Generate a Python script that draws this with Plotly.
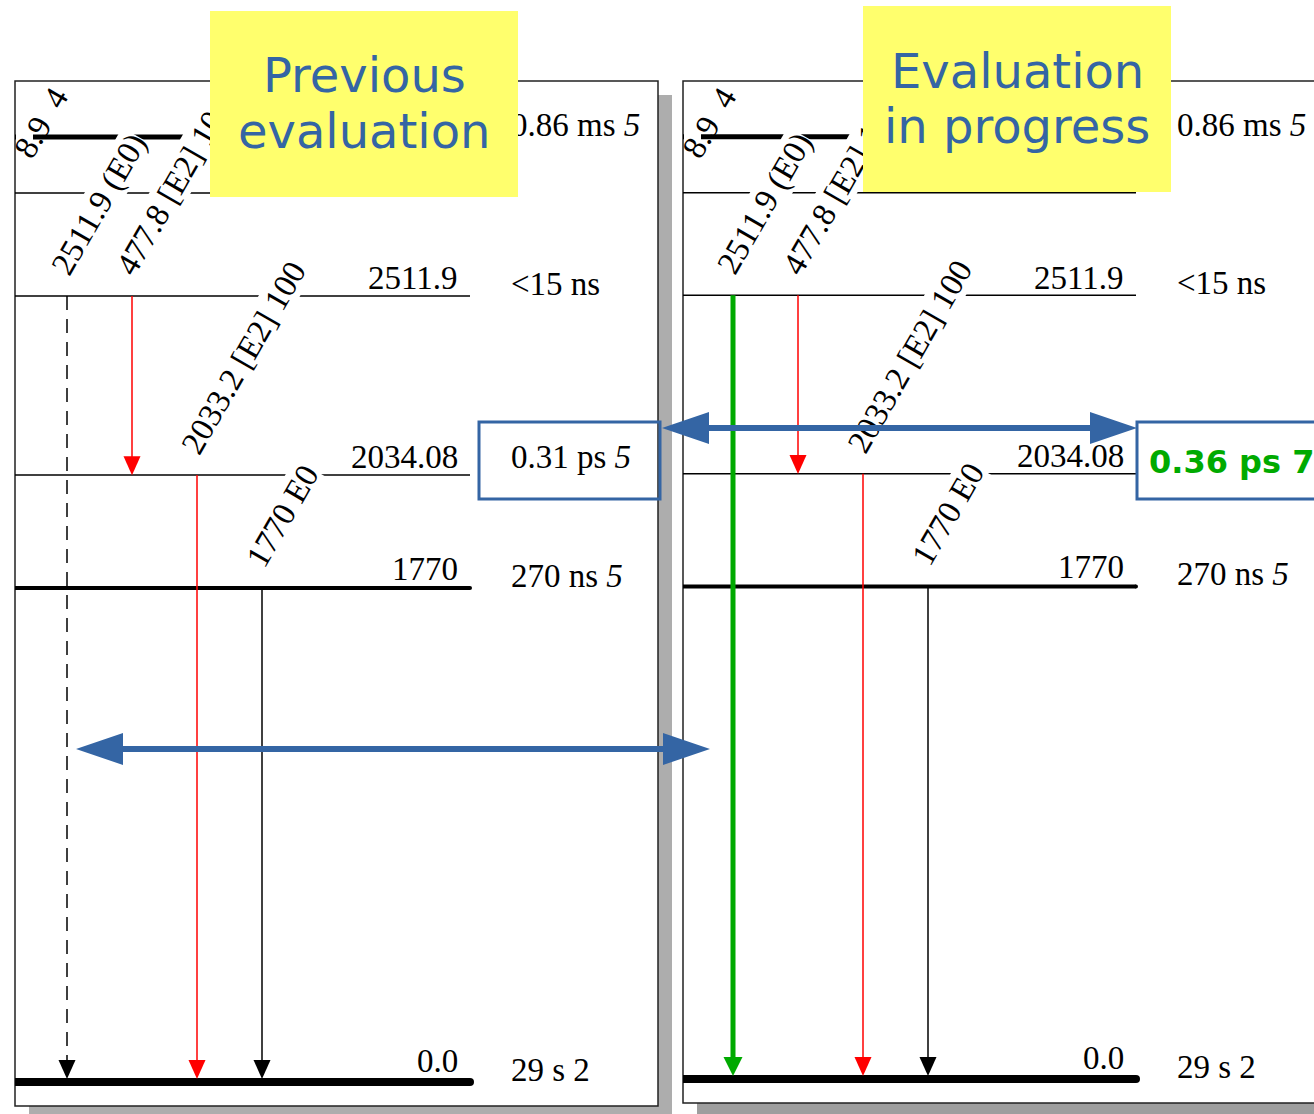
import plotly.graph_objects as go

# ---- level scheme: levels listed from the ground state upwards ----
level_energy = ["0.0", "1770", "2034.08", "2511.9", "", ""]
half_life_previous = ["29 s 2", "270 ns <i>5</i>", "0.31 ps <i>5</i>", "&lt;15 ns", "", "0.86 ms <i>5</i>"]
half_life_current = ["29 s 2", "270 ns <i>5</i>", "<b>0.36 ps 7</b>", "&lt;15 ns", "", "0.86 ms <i>5</i>"]
updated_level = 2  # level whose half-life is re-evaluated (boxed)

# ---- gamma transitions ----
gamma_label = ["2511.9 (E0)", "477.8 [E2] 10", "2033.2 [E2] 100", "1770 E0"]
gamma_from = [3, 3, 2, 1]
gamma_to = [0, 2, 0, 0]
# label of a transition drawn just outside the left edge of each frame
edge_label = "8.9 &nbsp;4"

panel_title = [["Previous", "evaluation"], ["Evaluation", "in progress"]]

# ---- drawing geometry (pixels of a 1314 x 1114 canvas) ----
W, H = 1314, 1114
FRAME_TOP = 81
FRAME_BOTTOM = 1106
FRAME_X = [(15, 658), (683, 1340)]
Y_SCALE = [1.0, 0.997]
SHADOW = 14
SHADOW_COLOR = ["#adadad", "#9e9e9e"]
ORIGIN_X = [15, 681]
LEVEL_ROW = [1082, 588, 475, 296, 193, 137]
LEVEL_WIDTH = [8, 4, 1.5, 1.5, 1.5, 5]
LEVEL_END = 455
ENERGY_X = 443
HALF_LIFE_X = 496
TRANS_COL = [52, 117, 182, 247]
HEAD_LEN, HEAD_HALF = 19, 8.5
LABEL_SIZE = 33
LABEL_DX, LABEL_DY = -23, -15
EDGE_ROW = 179
EDGE_COL = 18
EDGE_DX = -26

BOX = [(479, 422, 660, 499), (1137, 422, 1340, 499)]
BOX_TEXT_X = [511, 1149]
BOX_TEXT_DY = [-3.5, 1.5]

ARROWS = [(76, 710, 749), (662, 1137, 428)]
ARROW_HEAD, ARROW_HALF, ARROW_WIDTH = 47, 16, 6

CALLOUT = [(210, 11, 518, 197), (863, 6, 1171, 192)]
CALLOUT_BASELINE = [(92, 148), (88, 143)]
TITLE_SIZE = 48

SERIF = "Liberation Serif"
SANS = "DejaVu Sans"
RED, GREEN, BLUE, YELLOW = "#ff0000", "#00aa00", "#3465a4", "#ffff6d"

gamma_style = [
    [dict(color="black", width=1.5, dash="14px,9px"), dict(color=RED, width=1.5, dash="solid"),
     dict(color=RED, width=1.5, dash="solid"), dict(color="black", width=1.5, dash="solid")],
    [dict(color=GREEN, width=5, dash="solid"), dict(color=RED, width=1.5, dash="solid"),
     dict(color=RED, width=1.5, dash="solid"), dict(color="black", width=1.5, dash="solid")],
]
box_font = [dict(family=SERIF, size=33, color="black"), dict(family=SANS, size=32, color=GREEN)]
half_lives = [half_life_previous, half_life_current]

shapes = []
annotations = []


def yrow(p, row):
    return FRAME_TOP + (row - FRAME_TOP) * Y_SCALE[p]


def text(x, y, s, size=33, family=SERIF, color="black", xanchor="left", yanchor="bottom", **kw):
    annotations.append(dict(x=x, y=y, xref="x", yref="y", text=s, showarrow=False,
                            xanchor=xanchor, yanchor=yanchor, borderpad=0, borderwidth=0,
                            font=dict(family=family, size=size, color=color), **kw))


def tri(points, color):
    d = "M " + " L ".join(f"{x},{y}" for x, y in points) + " Z"
    shapes.append(dict(type="path", path=d, fillcolor=color, line=dict(width=0), xref="x", yref="y"))


# frames with drop shadows
for p in range(2):
    x0, x1 = FRAME_X[p]
    shapes.append(dict(type="rect", x0=x0 + SHADOW, x1=x1 + SHADOW, y0=FRAME_TOP + SHADOW,
                       y1=yrow(p, FRAME_BOTTOM) + SHADOW, fillcolor=SHADOW_COLOR[p], line=dict(width=0)))
for p in range(2):
    x0, x1 = FRAME_X[p]
    shapes.append(dict(type="rect", x0=x0, x1=x1, y0=FRAME_TOP, y1=yrow(p, FRAME_BOTTOM),
                       fillcolor="white", line=dict(color="#222222", width=1.5)))

# levels
for p in range(2):
    ox = ORIGIN_X[p]
    for i in range(len(level_energy)):
        y = yrow(p, LEVEL_ROW[i])
        w = LEVEL_WIDTH[i]
        shapes.append(dict(type="line", x0=FRAME_X[p][0], x1=ox + LEVEL_END, y0=y, y1=y,
                           line=dict(color="black", width=w)))
        if w >= 4:
            shapes.append(dict(type="circle", x0=ox + LEVEL_END - w / 2, x1=ox + LEVEL_END + w / 2,
                               y0=y - w / 2, y1=y + w / 2, fillcolor="black", line=dict(width=0)))
    # gap where the edge label crosses the top level
    y5 = yrow(p, LEVEL_ROW[5])
    shapes.append(dict(type="rect", x0=FRAME_X[p][0] + 1, x1=FRAME_X[p][0] + EDGE_COL,
                       y0=y5 - 4, y1=y5 + 4, fillcolor="white", line=dict(width=0)))

# transitions
for p in range(2):
    ox = ORIGIN_X[p]
    for k in range(len(gamma_label)):
        x = ox + TRANS_COL[k]
        st = gamma_style[p][k]
        y_top = yrow(p, LEVEL_ROW[gamma_from[k]])
        tip = yrow(p, LEVEL_ROW[gamma_to[k]]) - LEVEL_WIDTH[gamma_to[k]] / 2 + 1
        base = tip - HEAD_LEN
        shapes.append(dict(type="line", x0=x, x1=x, y0=y_top, y1=base + 1,
                           line=dict(color=st["color"], width=st["width"], dash=st["dash"])))
        half = HEAD_HALF + (1 if st["width"] > 3 else 0)
        tri([(x - half, base), (x + half, base), (x, tip)], st["color"])

# boxes around the re-evaluated half-life
for p in range(2):
    bx0, by0, bx1, by1 = BOX[p]
    shapes.append(dict(type="rect", x0=bx0, x1=bx1, y0=by0, y1=by1,
                       line=dict(color=BLUE, width=3), fillcolor="rgba(0,0,0,0)"))

# double arrows: heads as shapes, shafts drawn later as annotations
for xl, xr, y in ARROWS:
    tri([(xl, y), (xl + ARROW_HEAD, y - ARROW_HALF), (xl + ARROW_HEAD, y + ARROW_HALF)], BLUE)
    tri([(xr, y), (xr - ARROW_HEAD, y - ARROW_HALF), (xr - ARROW_HEAD, y + ARROW_HALF)], BLUE)

# level energies and half-lives
for p in range(2):
    ox = ORIGIN_X[p]
    for i in range(len(level_energy)):
        y = yrow(p, LEVEL_ROW[i])
        if level_energy[i]:
            text(ox + ENERGY_X, y - LEVEL_WIDTH[i] / 2 + 1, level_energy[i], xanchor="right")
        hl = half_lives[p][i]
        if hl and i != updated_level:
            text(ox + HALF_LIFE_X, y + 6, hl)
    bx0, by0, bx1, by1 = BOX[p]
    f = box_font[p]
    text(BOX_TEXT_X[p], (by0 + by1) / 2 + BOX_TEXT_DY[p], half_lives[p][updated_level],
         size=f["size"], family=f["family"], color=f["color"], yanchor="middle")

# transition labels
for p in range(2):
    ox = ORIGIN_X[p]
    for k in range(len(gamma_label)):
        x = ox + TRANS_COL[k]
        y_top = yrow(p, LEVEL_ROW[gamma_from[k]])
        text(x + LABEL_DX, y_top + LABEL_DY, gamma_label[k], size=LABEL_SIZE, textangle=-60,
             bgcolor="white")
    text(FRAME_X[p][0] + EDGE_COL + EDGE_DX, yrow(p, EDGE_ROW) + LABEL_DY, edge_label,
         size=LABEL_SIZE, textangle=-60)

# arrow shafts
for xl, xr, y in ARROWS:
    annotations.append(dict(x=xr - ARROW_HEAD + 2, y=y, ax=xl + ARROW_HEAD - 2, ay=y,
                            xref="x", yref="y", axref="x", ayref="y", text="", showarrow=True,
                            arrowhead=0, arrowwidth=ARROW_WIDTH, arrowcolor=BLUE,
                            standoff=0, startstandoff=0))

# yellow callouts
for p in range(2):
    cx0, cy0, cx1, cy1 = CALLOUT[p]
    annotations.append(dict(x=cx0, y=cy0, xref="x", yref="y", text=" ", showarrow=False,
                            xanchor="left", yanchor="top", width=cx1 - cx0, height=cy1 - cy0,
                            bgcolor=YELLOW, borderpad=0, borderwidth=0))
    for line, base in zip(panel_title[p], CALLOUT_BASELINE[p]):
        text((cx0 + cx1) / 2, base - 0.346 * TITLE_SIZE, line, size=TITLE_SIZE, family=SANS,
             color=BLUE, xanchor="center", yanchor="middle")

fig = go.Figure()
fig.update_layout(
    width=W, height=H, margin=dict(l=0, r=0, t=0, b=0),
    paper_bgcolor="white", plot_bgcolor="white", showlegend=False,
    xaxis=dict(range=[0, W], visible=False, fixedrange=True),
    yaxis=dict(range=[H, 0], visible=False, fixedrange=True),
    shapes=shapes, annotations=annotations,
)
fig.write_html("out.html", config={"displayModeBar": False})
